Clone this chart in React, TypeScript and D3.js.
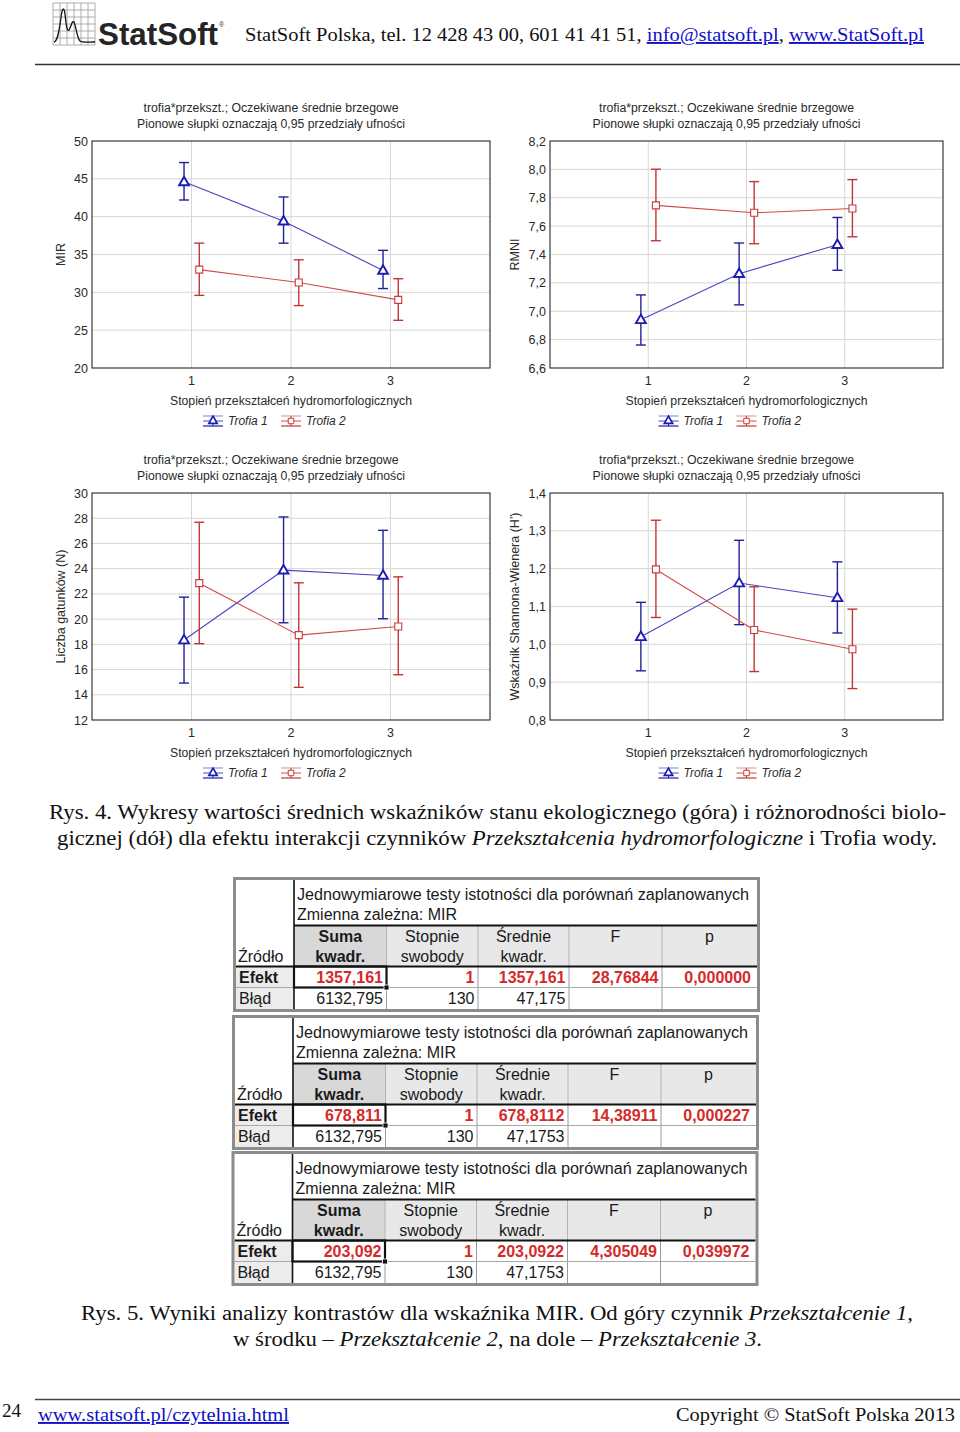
import React from 'react';
import * as d3 from 'd3';

// ---------------- DATA ----------------
const categories = [1, 2, 3];
const seriesNames = ['Trofia 1', 'Trofia 2'];

// MIR
const mirTicks = [20, 25, 30, 35, 40, 45, 50];
const mirT1Mean = [44.6, 39.4, 32.9];
const mirT1Low = [42.2, 36.5, 30.5];
const mirT1High = [47.15, 42.6, 35.55];
const mirT2Mean = [33.0, 31.3, 29.0];
const mirT2Low = [29.6, 28.25, 26.3];
const mirT2High = [36.5, 34.3, 31.8];

// RMNI
const rmniTicks = [6.6, 6.8, 7.0, 7.2, 7.4, 7.6, 7.8, 8.0, 8.2];
const rmniT1Mean = [6.94, 7.265, 7.469];
const rmniT1Low = [6.762, 7.045, 7.289];
const rmniT1High = [7.115, 7.481, 7.661];
const rmniT2Mean = [7.746, 7.694, 7.724];
const rmniT2Low = [7.497, 7.476, 7.525];
const rmniT2High = [8.001, 7.914, 7.928];

// Liczba gatunków (N)
const nTicks = [12, 14, 16, 18, 20, 22, 24, 26, 28, 30];
const nT1Mean = [18.34, 23.88, 23.46];
const nT1Low = [14.93, 19.71, 20.03];
const nT1High = [21.74, 28.1, 27.04];
const nT2Mean = [22.85, 18.73, 19.42];
const nT2Low = [18.05, 14.59, 15.59];
const nT2High = [27.68, 22.88, 23.35];

// Shannon-Wiener (H')
const hTicks = [0.8, 0.9, 1.0, 1.1, 1.2, 1.3, 1.4];
const hT1Mean = [1.02, 1.162, 1.123];
const hT1Low = [0.93, 1.052, 1.03];
const hT1High = [1.111, 1.275, 1.218];
const hT2Mean = [1.198, 1.038, 0.987];
const hT2Low = [1.071, 0.928, 0.883];
const hT2High = [1.328, 1.152, 1.093];

// Tables
const tableTitle = 'Jednowymiarowe testy istotności dla porównań zaplanowanych';
const tableSubtitle = 'Zmienna zależna: MIR';
const tableHeaders = [['Suma', 'kwadr.'], ['Stopnie', 'swobody'], ['Średnie', 'kwadr.'], ['F', ''], ['p', '']];
const t1Effect = ['1357,161', '1', '1357,161', '28,76844', '0,000000'];
const t1Error = ['6132,795', '130', '47,175'];
const t2Effect = ['678,811', '1', '678,8112', '14,38911', '0,000227'];
const t2Error = ['6132,795', '130', '47,1753'];
const t3Effect = ['203,092', '1', '203,0922', '4,305049', '0,039972'];
const t3Error = ['6132,795', '130', '47,1753'];

// ---------------- STYLE ----------------
const SANS = "'Liberation Sans', Arial, Helvetica, sans-serif";
const SERIF = "'Liberation Serif', 'Times New Roman', serif";
const TXT = '#2a2a2a';
const LINK = '#1010c8';

const seriesStyles = [
  { line: '#4646c6', bar: '#20209c', marker: 'tri', offset: -0.075 },
  { line: '#d24a4a', bar: '#c23636', marker: 'sq', offset: 0.078 },
];

function markerPath(kind: string, size: number) {
  return d3.symbol().type(kind === 'tri' ? d3.symbolTriangle : d3.symbolSquare).size(size)() as string;
}

type Ser = { mean: number[]; low: number[]; high: number[] };

function ErrorChart(props: {
  px: number; py: number; pw: number; ph: number;
  ticks: number[]; decimals: number; yLabel: string; yLabelX: number; series: Ser[];
}) {
  const { px, py, pw, ph, ticks, decimals, yLabel, yLabelX, series } = props;
  const x = d3.scaleLinear().domain([0, 4]).range([px, px + pw]);
  const y = d3.scaleLinear().domain([ticks[0], ticks[ticks.length - 1]]).range([py + ph, py]);
  const fmt = (v: number) => d3.format(`.${decimals}f`)(v).replace('.', ',');
  const pc = px + pw / 2;
  const tc = pc - 20;
  const capW = 5;

  return (
    <g fontFamily={SANS}>
      <text x={tc} y={py - 29.5} textAnchor="middle" fontSize={12.5} fill={TXT} textLength={255} lengthAdjust="spacingAndGlyphs">
        trofia*przekszt.; Oczekiwane średnie brzegowe
      </text>
      <text x={tc} y={py - 13.5} textAnchor="middle" fontSize={12.5} fill={TXT} textLength={268} lengthAdjust="spacingAndGlyphs">
        Pionowe słupki oznaczają 0,95 przedziały ufności
      </text>
      {/* grid */}
      {ticks.slice(1, -1).map((t) => (
        <line key={'h' + t} x1={px} x2={px + pw} y1={y(t)} y2={y(t)} stroke="#d6d6d6" strokeWidth={1} />
      ))}
      {categories.map((c) => (
        <line key={'v' + c} x1={x(c)} x2={x(c)} y1={py} y2={py + ph} stroke="#d6d6d6" strokeWidth={1} />
      ))}
      <rect x={px} y={py} width={pw} height={ph} fill="none" stroke="#3a3a3a" strokeWidth={1.2} />
      {/* y ticks */}
      {ticks.map((t) => (
        <text key={'yt' + t} x={px - 4} y={y(t) + 4.5} textAnchor="end" fontSize={12.5} fill={TXT}>{fmt(t)}</text>
      ))}
      {categories.map((c) => (
        <text key={'xt' + c} x={x(c)} y={py + ph + 17} textAnchor="middle" fontSize={12.5} fill={TXT}>{c}</text>
      ))}
      <text transform={`translate(${yLabelX},${py + ph / 2}) rotate(-90)`} textAnchor="middle" fontSize={12.5} fill={TXT}>{yLabel}</text>
      <text x={pc} y={py + ph + 36.5} textAnchor="middle" fontSize={12.5} fill={TXT} textLength={242} lengthAdjust="spacingAndGlyphs">
        Stopień przekształceń hydromorfologicznych
      </text>
      {/* series */}
      {series.map((s, si) => {
        const st = seriesStyles[si];
        const pts = categories.map((c, i) => [x(c + st.offset), y(s.mean[i])] as [number, number]);
        const path = d3.line()(pts) as string;
        return (
          <g key={'s' + si}>
            <path d={path} fill="none" stroke={st.line} strokeWidth={1.1} />
            {categories.map((c, i) => {
              const cx = x(c + st.offset);
              const yl = y(s.low[i]);
              const yh = y(s.high[i]);
              return (
                <g key={'e' + i} stroke={st.bar} strokeWidth={1.4}>
                  <line x1={cx} x2={cx} y1={yh} y2={yl} />
                  <line x1={cx - capW} x2={cx + capW} y1={yh} y2={yh} />
                  <line x1={cx - capW} x2={cx + capW} y1={yl} y2={yl} />
                </g>
              );
            })}
            {pts.map((p, i) => (
              <path key={'m' + i} d={markerPath(st.marker, st.marker === 'tri' ? 42 : 49)}
                transform={`translate(${p[0]},${p[1] + (st.marker === 'tri' ? 0.5 : 0)})`}
                fill="white" stroke={st.marker === 'tri' ? '#1c1cb0' : '#c83c3c'}
                strokeWidth={st.marker === 'tri' ? 1.9 : 1.1} />
            ))}
          </g>
        );
      })}
      {/* legend */}
      {seriesNames.map((name, si) => {
        const st = seriesStyles[si];
        const sx = si === 0 ? pc - 78 : pc;
        const cy = py + ph + 53;
        return (
          <g key={'l' + si}>
            <line x1={sx - 10} x2={sx + 10} y1={cy - 5} y2={cy - 5} stroke={st.bar} strokeWidth={0.8} opacity={0.7} />
            <line x1={sx - 10} x2={sx + 10} y1={cy + 5} y2={cy + 5} stroke={st.bar} strokeWidth={1.2} />
            <line x1={sx - 10} x2={sx + 10} y1={cy} y2={cy} stroke={st.line} strokeWidth={1} />
            <line x1={sx} x2={sx} y1={cy - 5} y2={cy + 5} stroke={st.bar} strokeWidth={1} />
            <path d={markerPath(st.marker, st.marker === 'tri' ? 30 : 30)} transform={`translate(${sx},${cy})`}
              fill="white" stroke={st.marker === 'tri' ? '#1c1cb0' : '#c83c3c'} strokeWidth={st.marker === 'tri' ? 1.7 : 1} />
            <text x={sx + 15} y={cy + 4} fontSize={12} fontStyle="italic" fill={TXT}>{name}</text>
          </g>
        );
      })}
    </g>
  );
}

const colWidths = [58, 92.5, 91.5, 91, 93, 95];

function StatTable(props: { x0: number; y0: number; effect: string[]; error: string[] }) {
  const { x0, y0, effect, error } = props;
  const edges = [x0];
  colWidths.forEach((w) => edges.push(edges[edges.length - 1] + w));
  const right = edges[edges.length - 1];
  const H = 129;
  const lineA = y0 + 45.5;
  const lineB = y0 + 86.5;
  const rowSep = y0 + 107.5;
  const red = '#d42a2a';
  return (
    <g fontFamily={SANS} fontSize={16}>
      <rect x={x0} y={y0} width={right - x0} height={H} fill="white" />
      {/* header backgrounds */}
      <rect x={edges[1]} y={lineA} width={right - edges[1]} height={lineB - lineA} fill="#e8e8e8" />
      <rect x={edges[1]} y={lineA} width={colWidths[1]} height={lineB - lineA} fill="#d8d8d8" />
      <rect x={x0} y={lineB} width={colWidths[0]} height={y0 + H - lineB} fill="#ececec" />
      {/* header column separators */}
      {edges.slice(2, -1).map((e, i) => (
        <line key={'hs' + i} x1={e} x2={e} y1={lineA} y2={lineB} stroke="#b4b4b4" strokeWidth={1} />
      ))}
      {/* data separators */}
      {edges.slice(2, -1).map((e, i) => (
        <line key={'ds' + i} x1={e} x2={e} y1={lineB} y2={y0 + H} stroke="#9a9a9a" strokeWidth={1} />
      ))}
      <line x1={x0} x2={right} y1={rowSep} y2={rowSep} stroke="#a8a8a8" strokeWidth={1} />
      {/* titles */}
      <text x={edges[1] + 3} y={y0 + 20} fill="#1a1a1a" textLength={452} lengthAdjust="spacingAndGlyphs">{tableTitle}</text>
      <text x={edges[1] + 3} y={y0 + 39.5} fill="#1a1a1a">{tableSubtitle}</text>
      {tableHeaders.map((h, i) => {
        const cx = (edges[i + 1] + edges[i + 2]) / 2;
        return (
          <g key={'th' + i} fill="#1a1a1a" fontWeight={i === 0 ? 'bold' : 'normal'} textAnchor="middle">
            <text x={cx} y={y0 + 62}>{h[0]}</text>
            {h[1] && <text x={cx} y={y0 + 82}>{h[1]}</text>}
          </g>
        );
      })}
      <text x={x0 + 2} y={y0 + 82} fill="#1a1a1a">Źródło</text>
      {/* rows */}
      <text x={x0 + 3} y={y0 + 103} fill="#1a1a1a" fontWeight="bold">Efekt</text>
      <text x={x0 + 3} y={y0 + 123.5} fill="#1a1a1a">Błąd</text>
      {effect.map((v, i) => (
        <text key={'ev' + i} x={edges[i + 2] - (i === 4 ? 6 : 3.5)} y={y0 + 103} textAnchor="end" fill={red} fontWeight="bold">{v}</text>
      ))}
      {error.map((v, i) => (
        <text key={'bv' + i} x={edges[i + 2] - 3.5} y={y0 + 123.5} textAnchor="end" fill="#1a1a1a">{v}</text>
      ))}
      {/* heavy lines */}
      <line x1={edges[1]} x2={right} y1={lineA} y2={lineA} stroke="#111" strokeWidth={2} />
      <line x1={x0} x2={right} y1={lineB} y2={lineB} stroke="#111" strokeWidth={2} />
      <line x1={edges[1]} x2={edges[1]} y1={y0} y2={y0 + H} stroke="#111" strokeWidth={1.6} />
      {/* selected cell */}
      <rect x={edges[1]} y={lineB} width={colWidths[1]} height={rowSep - lineB} fill="none" stroke="#111" strokeWidth={2.2} />
      <rect x={edges[2] - 2.5} y={rowSep - 2.5} width={5} height={5} fill="#111" stroke="white" strokeWidth={0.8} />
      {/* outer frame */}
      <rect x={x0 - 1.5} y={y0 - 1.5} width={right - x0 + 3} height={H + 3} fill="none" stroke="#8c8c8c" strokeWidth={3} />
    </g>
  );
}

function Logo() {
  const gx = [53, 60, 67, 74, 81, 88, 95];
  const gy = [3, 10, 17, 24, 31, 38, 45];
  return (
    <g>
      {gx.map((v) => <line key={'gx' + v} x1={v} x2={v} y1={3} y2={45} stroke="#9a9a9a" strokeWidth={0.8} />)}
      {gy.map((v) => <line key={'gy' + v} x1={53} x2={95} y1={v} y2={v} stroke="#9a9a9a" strokeWidth={0.8} />)}
      <path d="M54,42 C58,41 59,30 61,18 C62,8 64,6 65,14 C66,24 67,32 69,30 C71,27 72,20 74,22 C76,26 77,38 80,41 C83,43 88,42 95,42"
        fill="none" stroke="#111" strokeWidth={1.3} />
      <text x={98} y={45} fontFamily={SANS} fontWeight="bold" fontSize={31} fill="#252525" textLength={120} lengthAdjust="spacingAndGlyphs">StatSoft</text>
      <text x={219} y={27} fontFamily={SANS} fontSize={7} fill="#333">®</text>
    </g>
  );
}

export default function App() {
  return (
    <svg width={960} height={1432} viewBox="0 0 960 1432" style={{ position: 'absolute', left: 0, top: 0, background: 'white' }}>
      <rect x={0} y={0} width={960} height={1432} fill="white" />
      <Logo />
      <text x={245} y={41} fontFamily={SERIF} fontSize={19} fill="#111" textLength={679} lengthAdjust="spacingAndGlyphs">
        StatSoft Polska, tel. 12 428 43 00, 601 41 41 51, <tspan fill={LINK} textDecoration="underline">info@statsoft.pl</tspan>, <tspan fill={LINK} textDecoration="underline">www.StatSoft.pl</tspan>
      </text>
      <line x1={35} x2={960} y1={64.5} y2={64.5} stroke="#333" strokeWidth={1.5} />

      <ErrorChart px={92} py={141} pw={398} ph={227} ticks={mirTicks} decimals={0} yLabel="MIR" yLabelX={65}
        series={[{ mean: mirT1Mean, low: mirT1Low, high: mirT1High }, { mean: mirT2Mean, low: mirT2Low, high: mirT2High }]} />
      <ErrorChart px={550} py={141} pw={393} ph={227} ticks={rmniTicks} decimals={1} yLabel="RMNI" yLabelX={519}
        series={[{ mean: rmniT1Mean, low: rmniT1Low, high: rmniT1High }, { mean: rmniT2Mean, low: rmniT2Low, high: rmniT2High }]} />
      <ErrorChart px={92} py={493} pw={398} ph={227} ticks={nTicks} decimals={0} yLabel="Liczba gatunków (N)" yLabelX={65}
        series={[{ mean: nT1Mean, low: nT1Low, high: nT1High }, { mean: nT2Mean, low: nT2Low, high: nT2High }]} />
      <ErrorChart px={550} py={493} pw={393} ph={227} ticks={hTicks} decimals={1} yLabel="Wskaźnik Shannona-Wienera (H')" yLabelX={519}
        series={[{ mean: hT1Mean, low: hT1Low, high: hT1High }, { mean: hT2Mean, low: hT2Low, high: hT2High }]} />

      <g fontFamily={SERIF} fontSize={20.5} fill="#111">
        <text x={49} y={819} textLength={897} lengthAdjust="spacingAndGlyphs">
          Rys. 4. Wykresy wartości średnich wskaźników stanu ekologicznego (góra) i różnorodności biolo-
        </text>
        <text x={57} y={845} textLength={880} lengthAdjust="spacingAndGlyphs">
          gicznej (dół) dla efektu interakcji czynników <tspan fontStyle="italic">Przekształcenia hydromorfologiczne</tspan> i Trofia wody.
        </text>
      </g>

      <StatTable x0={236} y0={880} effect={t1Effect} error={t1Error} />
      <StatTable x0={235} y0={1018} effect={t2Effect} error={t2Error} />
      <StatTable x0={234.5} y0={1154} effect={t3Effect} error={t3Error} />

      <g fontFamily={SERIF} fontSize={20.5} fill="#111">
        <text x={81} y={1320} textLength={832} lengthAdjust="spacingAndGlyphs">
          Rys. 5. Wyniki analizy kontrastów dla wskaźnika MIR. Od góry czynnik <tspan fontStyle="italic">Przekształcenie 1</tspan>,
        </text>
        <text x={233} y={1346} textLength={529} lengthAdjust="spacingAndGlyphs">
          w środku – <tspan fontStyle="italic">Przekształcenie 2</tspan>, na dole – <tspan fontStyle="italic">Przekształcenie 3</tspan>.
        </text>
      </g>

      <line x1={35} x2={960} y1={1399.5} y2={1399.5} stroke="#444" strokeWidth={1.5} />
      <g fontFamily={SERIF} fontSize={19}>
        <text x={2} y={1417} fill="#111">24</text>
        <text x={38} y={1421} fill={LINK} textDecoration="underline" textLength={251} lengthAdjust="spacingAndGlyphs">www.statsoft.pl/czytelnia.html</text>
        <text x={676} y={1421} fill="#111" textLength={279} lengthAdjust="spacingAndGlyphs">Copyright © StatSoft Polska 2013</text>
      </g>
    </svg>
  );
}
